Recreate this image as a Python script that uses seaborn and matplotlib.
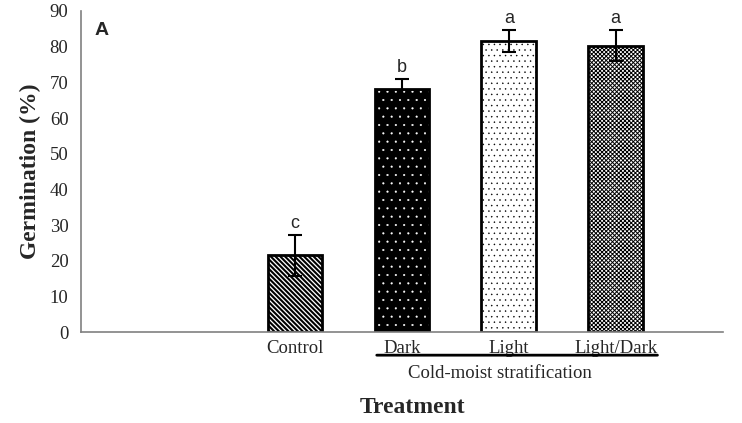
import matplotlib
matplotlib.use("Agg")
import matplotlib.pyplot as plt
import seaborn as sns
import pandas as pd

# data
treatments = ["Control", "Dark", "Light", "Light/Dark"]
germination = [21.5, 68.2, 81.5, 80.3]
std_err = [5.8, 2.7, 3.1, 4.3]
letters = ["c", "b", "a", "a"]

# bar styles
face_colors = ["white", "black", "white", "white"]
hatch_colors = ["black", "white", "black", "black"]
hatches = ["\\" * 7, "..", "...", "x" * 8]
hatch_widths = [1.5, 0.3, 0.3, 0.7]

sns.set_style("white")
plt.rcParams["font.family"] = ["Liberation Serif", "DejaVu Serif"]
plt.rcParams["hatch.linewidth"] = 0.7

df = pd.DataFrame({"Treatment": treatments, "Germination": germination})

fig = plt.figure(figsize=(7.42, 4.23), dpi=100)
ax = fig.add_axes([0.109, 0.215, 0.865, 0.759])

sns.barplot(data=df, x="Treatment", y="Germination", order=treatments,
            width=0.51, errorbar=None, ax=ax, color="white")
for patch, fc, hc, h, hw in zip(ax.patches, face_colors, hatch_colors,
                                hatches, hatch_widths):
    patch.set_facecolor(fc)
    patch.set_edgecolor(hc)
    patch.set_hatch(h)
    patch.set_linewidth(0)
    if hasattr(patch, "set_hatch_linewidth"):
        patch.set_hatch_linewidth(hw)

# black outlines on top
sns.barplot(data=df, x="Treatment", y="Germination", order=treatments,
            width=0.51, errorbar=None, ax=ax, fill=False, color="black",
            linewidth=2)

xpos = range(len(treatments))
ax.errorbar(xpos, germination, yerr=std_err, fmt="none", ecolor="black",
            elinewidth=1.5, capsize=5, capthick=1.5, zorder=5)

for x, m, e, lab in zip(xpos, germination, std_err, letters):
    ax.text(x, m + e + 0.8, lab, ha="center", va="bottom", fontsize=13,
            family="Liberation Sans")

ax.text(0.022, 0.965, "A", transform=ax.transAxes, ha="left", va="top",
        fontsize=14, fontweight="bold", family="Liberation Sans")

ax.set_xlim(-2, 4)
ax.set_ylim(0, 90)
ax.set_yticks(range(0, 91, 10))
ax.tick_params(axis="y", direction="in", length=4, width=1, color="#808080",
               labelsize=13.5, pad=9)
ax.tick_params(axis="x", length=0, labelsize=13.5, pad=6)
for side in ["top", "right"]:
    ax.spines[side].set_visible(False)
for side in ["left", "bottom"]:
    ax.spines[side].set_color("#808080")
    ax.spines[side].set_linewidth(1.2)

ax.set_xlabel("")
ax.set_ylabel("Germination (%)", fontsize=17, fontweight="bold", labelpad=6)

# group bracket under the stratification treatments
ax.annotate("", xy=(0.766, -0.072), xycoords=("data", "axes fraction"),
            xytext=(3.39, -0.072), textcoords=("data", "axes fraction"),
            arrowprops=dict(arrowstyle="-", color="black", lw=2,
                            shrinkA=0, shrinkB=0))
ax.text(1.92, -0.13, "Cold-moist stratification", transform=ax.get_xaxis_transform(),
        ha="center", va="center", fontsize=13.5)
ax.text(1.1, -0.235, "Treatment", transform=ax.get_xaxis_transform(),
        ha="center", va="center", fontsize=17, fontweight="bold")

fig.savefig("out.png", dpi=100)
